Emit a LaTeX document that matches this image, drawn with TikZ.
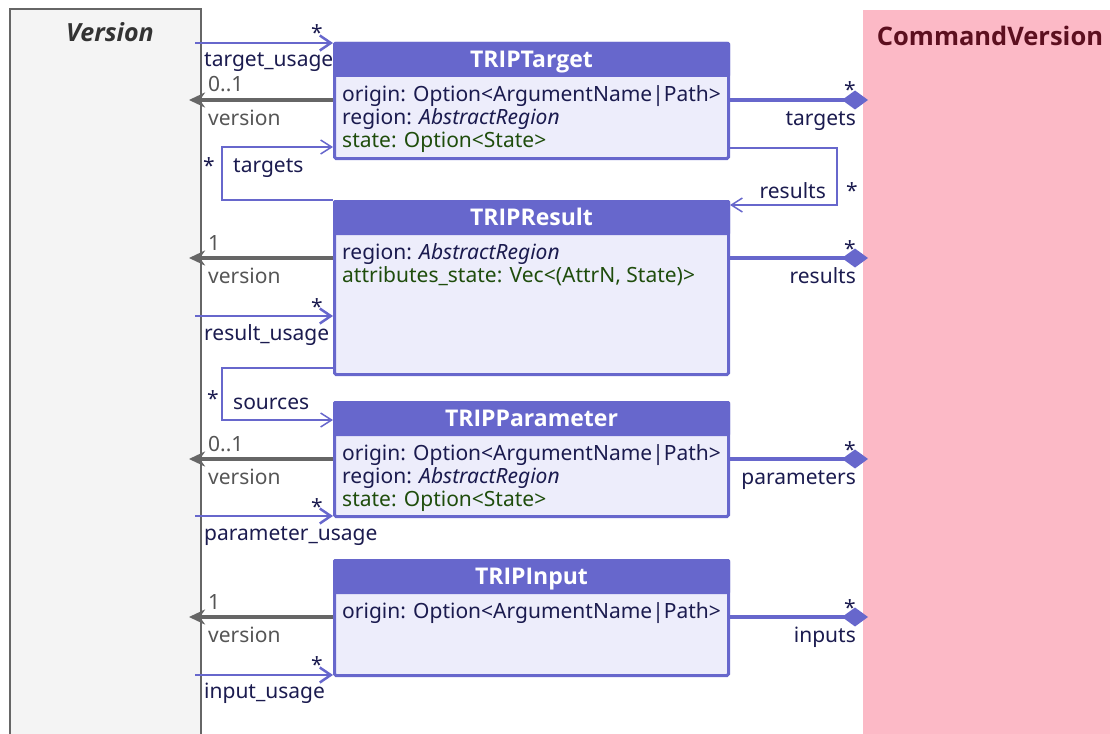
\documentclass[tikz,border=0pt]{standalone}
\usepackage{fontspec}
\setmainfont{Noto Sans}
\newfontfamily\titlefont{Open Sans}
\usepackage{tikz}
\usetikzlibrary{arrows.meta, calc}

\definecolor{umlblue}{HTML}{6767CC}
\definecolor{umlbody}{HTML}{EDEDFB}
\definecolor{umlnavy}{HTML}{1B1B4F}
\definecolor{umlgreen}{HTML}{1F4D0C}
\definecolor{umlgray}{HTML}{666666}
\definecolor{umllabel}{HTML}{555555}
\definecolor{verfill}{HTML}{F4F4F4}
\definecolor{verdark}{HTML}{333333}
\definecolor{cmdfill}{HTML}{FCB9C6}
\definecolor{cmddark}{HTML}{5C0F1F}

\newcommand{\attrfont}{\fontsize{21}{23}\selectfont}
\newcommand{\greentxt}[1]{\textcolor{umlgreen}{#1}}

\tikzset{
  classbody/.style={draw=umlblue, fill=umlbody, line width=3pt, rounded corners=1.5pt,
    anchor=north west, minimum width=394pt, inner sep=0pt},
  classhead/.style={fill=umlblue, rounded corners=1.5pt, anchor=north west, outer sep=0pt,
    minimum width=397pt, minimum height=35pt, inner sep=0pt, text=white,
    font=\titlefont\fontsize{23}{25}\selectfont\bfseries, text height=16pt, text depth=0pt},
  attrs/.style={anchor=north west, inner sep=0pt, align=left, text=umlnavy, font=\attrfont},
  lbl/.style={inner sep=0pt, text=umlnavy, font=\attrfont},
  vlbl/.style={lbl, text=umllabel},
  usage/.style={draw=umlblue, line width=2.5pt, -{Straight Barb[length=11pt,width=15pt]}},
  selfref/.style={draw=umlblue, line width=1.5pt, -{Straight Barb[length=11pt,width=14pt]}},
  verlink/.style={draw=umlgray, line width=4pt, -{Stealth[length=16pt,width=15pt,inset=5pt]}},
  owner/.style={draw=umlblue, line width=4pt, -{Diamond[length=26pt,width=19pt]}},
}

\begin{document}
\begin{tikzpicture}[x=1pt, y=-1pt]
\useasboundingbox (0,0) rectangle (1110,733);

% the two packages
\node [draw=umlgray, fill=verfill, line width=2pt, anchor=north west, minimum width=191pt,
  minimum height=740pt] (ver) at (9,8) {};
\node [anchor=base, text=verdark, font=\titlefont\fontsize{25}{28}\selectfont\bfseries\itshape] (vertitle) at (110,42) {Version};
\node [fill=cmdfill, anchor=north west, minimum width=260pt, minimum height=740pt, inner sep=0pt] (cmd) at (863,10) {};
\node [anchor=base, text=cmddark, font=\titlefont\fontsize{25.5}{28}\selectfont\bfseries] (cmdtitle) at (990,46) {CommandVersion};

% classes
\node [classbody, minimum height=115pt] (tgt) at (333,42) {};
\node [classhead] (tgthead) at (tgt.north west) {TRIPTarget};
\node [attrs] (tgtattr) at ($(tgthead.south west)+(9,8.5)$) {origin: Option<ArgumentName|Path>\\
  region: \textit{AbstractRegion}\\ \greentxt{state: Option<State>}};

\node [classbody, minimum height=173pt] (res) at (333,200) {};
\node [classhead] (reshead) at (res.north west) {TRIPResult};
\node [attrs] (resattr) at ($(reshead.south west)+(9,8.5)$) {region: \textit{AbstractRegion}\\
  \greentxt{attributes\_state: Vec<(AttrN, State)>}};

\node [classbody, minimum height=114pt] (par) at (333,401) {};
\node [classhead] (parhead) at (par.north west) {TRIPParameter};
\node [attrs] (parattr) at ($(parhead.south west)+(9,8.5)$) {origin: Option<ArgumentName|Path>\\
  region: \textit{AbstractRegion}\\ \greentxt{state: Option<State>}};

\node [classbody, minimum height=115pt] (inp) at (333,559) {};
\node [classhead] (inphead) at (inp.north west) {TRIPInput};
\node [attrs] (inpattr) at ($(inphead.south west)+(9,8.5)$) {origin: Option<ArgumentName|Path>};

% end points on the packages
\coordinate (tgtU) at (195,43);
\coordinate (tgtV) at (189,100);
\coordinate (tgtC) at (868,100);
\coordinate (resV) at (189,258);
\coordinate (resC) at (868,258);
\coordinate (resU) at (195,316);
\coordinate (parV) at (189,459);
\coordinate (parC) at (868,459);
\coordinate (parU) at (195,516);
\coordinate (inpV) at (189,617);
\coordinate (inpC) at (868,617);
\coordinate (inpU) at (195,675);
\coordinate (tgtLoop) at (222,147);
\coordinate (resLoop) at (837,148);
\coordinate (resLoopB) at (837,205);
\coordinate (srcLoop) at (222,368);
\coordinate (srcLoopB) at (222,420);

% TRIPTarget
\draw [usage] (tgtU) -- (tgt.west |- tgtU);
\node [lbl, anchor=base east] (tgtUs) at (323,41) {*};
\node [lbl, anchor=base west] (tgtUl) at (204,67) {target\_usage};
\draw [verlink] (tgt.west |- tgtV) -- (tgtV);
\node [vlbl, anchor=base west] (tgtVm) at (208,92) {0..1};
\node [vlbl, anchor=base west] (tgtVl) at (208,125.5) {version};
\draw [owner] (tgt.east |- tgtC) -- (tgtC);
\node [lbl, anchor=base east] (tgtCs) at (856,98) {*};
\node [lbl, anchor=base east] (tgtCl) at (856,125.5) {targets};

% self references
\draw [selfref] (res.north west) -| (tgtLoop) -- (tgt.west |- tgtLoop);
\node [lbl, anchor=base west] (tgtLs) at (203,173) {*};
\node [lbl, anchor=base west] (tgtLl) at (233,172) {targets};
\draw [selfref] (tgt.east |- resLoop) -- (resLoop) -- (resLoopB) -- (res.east |- resLoopB);
\node [lbl, anchor=base east] (resLl) at (826,198) {results};
\node [lbl, anchor=base west] (resLs) at (846,198) {*};
\draw [selfref] (res.west |- srcLoop) -- (srcLoop) -- (srcLoopB) -- (par.west |- srcLoopB);
\node [lbl, anchor=base west] (srcLs) at (207,406) {*};
\node [lbl, anchor=base west] (srcLl) at (233,409) {sources};

% TRIPResult
\draw [verlink] (res.west |- resV) -- (resV);
\node [vlbl, anchor=base west] (resVm) at (208,250) {1};
\node [vlbl, anchor=base west] (resVl) at (208,283.5) {version};
\draw [owner] (res.east |- resC) -- (resC);
\node [lbl, anchor=base east] (resCs) at (856,256) {*};
\node [lbl, anchor=base east] (resCl) at (856,283.5) {results};
\draw [usage] (resU) -- (res.west |- resU);
\node [lbl, anchor=base east] (resUs) at (323,314) {*};
\node [lbl, anchor=base west] (resUl) at (204,340) {result\_usage};

% TRIPParameter
\draw [verlink] (par.west |- parV) -- (parV);
\node [vlbl, anchor=base west] (parVm) at (208,451) {0..1};
\node [vlbl, anchor=base west] (parVl) at (208,484.5) {version};
\draw [owner] (par.east |- parC) -- (parC);
\node [lbl, anchor=base east] (parCs) at (856,457) {*};
\node [lbl, anchor=base east] (parCl) at (856,484.5) {parameters};
\draw [usage] (parU) -- (par.west |- parU);
\node [lbl, anchor=base east] (parUs) at (323,514) {*};
\node [lbl, anchor=base west] (parUl) at (204,540) {parameter\_usage};

% TRIPInput
\draw [verlink] (inp.west |- inpV) -- (inpV);
\node [vlbl, anchor=base west] (inpVm) at (208,609) {1};
\node [vlbl, anchor=base west] (inpVl) at (208,642.5) {version};
\draw [owner] (inp.east |- inpC) -- (inpC);
\node [lbl, anchor=base east] (inpCs) at (856,615) {*};
\node [lbl, anchor=base east] (inpCl) at (856,642.5) {inputs};
\draw [usage] (inpU) -- (inp.west |- inpU);
\node [lbl, anchor=base east] (inpUs) at (323,672) {*};
\node [lbl, anchor=base west] (inpUl) at (204,698) {input\_usage};
\end{tikzpicture}
\end{document}
